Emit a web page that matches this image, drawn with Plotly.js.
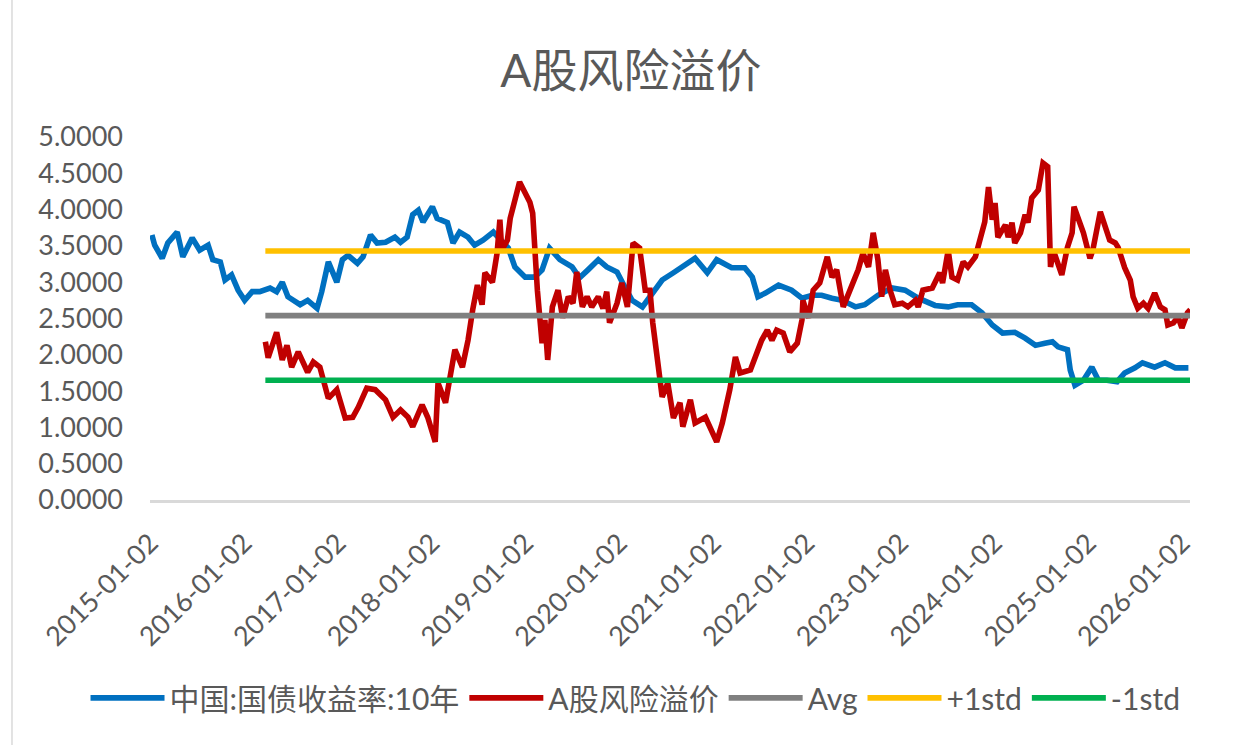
<!DOCTYPE html>
<html>
<head>
<meta charset="utf-8">
<script src="https://cdn.plot.ly/plotly-3.0.1.min.js"></script>
<style>
  html, body { margin: 0; padding: 0; background: #ffffff; }
  #chart { width: 1242px; height: 745px; }
</style>
</head>
<body>
<div id="chart"></div>
<script>
// ---------------- DATA ----------------
// x positions are decimal years; values are percent
const bondYears = [2015.02,2015.05,2015.13,2015.19,2015.29,2015.35,2015.45,2015.53,2015.62,2015.67,2015.75,2015.80,2015.87,2015.94,
  2016.01,2016.09,2016.17,2016.28,2016.35,2016.41,2016.47,2016.60,2016.68,2016.78,2016.83,2016.90,2016.99,
  2017.05,2017.11,2017.21,2017.27,2017.35,2017.42,2017.51,2017.61,2017.67,2017.74,2017.80,2017.86,2017.91,
  2018.01,2018.06,2018.17,2018.23,2018.30,2018.39,2018.46,2018.55,2018.66,2018.75,2018.82,2018.89,
  2019.00,2019.10,2019.18,2019.26,2019.37,2019.50,2019.58,2019.67,2019.78,2019.87,2019.98,
  2020.04,2020.14,2020.25,2020.35,2020.46,2020.58,2020.68,2020.81,2020.94,
  2021.04,2021.20,2021.34,2021.42,2021.48,2021.56,2021.70,2021.84,2021.95,
  2022.06,2022.16,2022.27,2022.38,2022.52,2022.62,2022.76,2022.91,
  2023.05,2023.19,2023.37,2023.51,2023.61,2023.76,2023.87,2023.98,
  2024.09,2024.22,2024.33,2024.44,2024.54,2024.62,2024.68,2024.78,2024.81,2024.86,2024.95,
  2025.04,2025.11,2025.20,2025.31,2025.39,2025.50,2025.58,2025.71,2025.82,2025.93,2026.01,2026.07];
const bondYield = [3.65,3.51,3.33,3.54,3.69,3.35,3.61,3.44,3.51,3.31,3.28,3.03,3.10,2.89,
  2.75,2.87,2.87,2.92,2.87,3.00,2.80,2.69,2.75,2.64,2.87,3.28,3.00,
  3.31,3.37,3.26,3.35,3.65,3.54,3.55,3.62,3.55,3.62,3.93,3.99,3.83,
  4.04,3.88,3.82,3.54,3.69,3.62,3.51,3.58,3.69,3.58,3.47,3.21,
  3.07,3.07,3.17,3.47,3.31,3.21,3.06,3.17,3.31,3.21,3.14,
  2.99,2.75,2.66,2.85,3.03,3.13,3.21,3.33,3.13,
  3.31,3.20,3.20,3.07,2.80,2.85,2.96,2.89,2.78,
  2.82,2.82,2.78,2.75,2.66,2.69,2.82,2.92,
  2.89,2.78,2.68,2.66,2.69,2.69,2.58,2.41,
  2.30,2.31,2.23,2.13,2.16,2.18,2.11,2.07,1.79,1.58,1.65,
  1.83,1.65,1.65,1.63,1.75,1.82,1.89,1.83,1.89,1.82,1.83,1.82];

const erpYears = [2016.23,2016.26,2016.35,2016.41,2016.46,2016.51,2016.58,2016.68,2016.74,2016.81,2016.90,2016.99,
  2017.08,2017.16,2017.22,2017.31,2017.40,2017.51,2017.59,2017.67,2017.75,2017.80,2017.90,2017.96,
  2018.04,2018.07,2018.15,2018.20,2018.25,2018.33,2018.39,2018.44,2018.49,2018.54,2018.57,2018.65,2018.70,2018.73,2018.75,2018.81,2018.84,2018.94,
  2019.05,2019.08,2019.13,2019.18,2019.21,2019.24,2019.29,2019.35,2019.40,2019.46,2019.51,2019.55,2019.61,2019.66,2019.71,2019.78,2019.83,2019.87,2019.90,2019.98,
  2020.03,2020.09,2020.15,2020.22,2020.28,2020.33,2020.36,2020.42,2020.46,2020.52,2020.58,2020.65,2020.68,2020.76,2020.81,2020.92,2020.99,
  2021.04,2021.10,2021.18,2021.24,2021.29,2021.40,2021.47,2021.52,2021.58,2021.63,2021.68,2021.75,2021.82,2021.90,2021.95,2021.96,
  2022.02,2022.07,2022.14,2022.22,2022.27,2022.32,2022.39,2022.48,2022.55,2022.60,2022.66,2022.71,2022.76,2022.80,2022.84,2022.89,2022.94,
  2023.02,2023.08,2023.16,2023.19,2023.24,2023.34,2023.37,2023.42,2023.45,2023.51,2023.55,2023.61,2023.67,2023.72,2023.80,2023.85,2023.90,2023.94,2023.98,
  2024.01,2024.04,2024.12,2024.15,2024.19,2024.22,2024.28,2024.33,2024.36,2024.40,2024.47,2024.52,2024.57,2024.60,2024.63,2024.67,2024.72,2024.78,2024.83,2024.85,2024.89,2024.95,
  2025.02,2025.05,2025.13,2025.18,2025.23,2025.29,2025.32,2025.39,2025.45,2025.48,2025.53,2025.59,2025.64,2025.71,2025.77,2025.82,2025.85,2025.91,2025.96,
  2026.00,2026.06,2026.09];
const erpValue = [2.18,1.96,2.31,1.93,2.13,1.83,2.04,1.76,1.90,1.83,1.40,1.52,
  1.13,1.14,1.28,1.54,1.52,1.38,1.14,1.24,1.14,1.01,1.31,1.14,
  0.80,1.61,1.34,1.75,2.07,1.83,2.20,2.62,2.96,2.69,3.13,3.00,3.40,3.86,3.44,3.58,3.88,4.38,
  4.10,3.95,2.89,2.16,2.48,1.93,2.66,2.89,2.51,2.80,2.71,3.14,2.66,2.80,2.66,2.80,2.64,2.87,2.44,2.71,
  2.99,2.66,3.54,3.47,2.89,2.89,2.44,1.83,1.42,1.61,1.13,1.34,1.01,1.38,1.06,1.14,0.96,
  0.80,1.06,1.52,1.97,1.75,1.79,2.04,2.20,2.34,2.20,2.34,2.30,2.04,2.16,2.48,2.75,
  2.51,2.89,2.99,3.35,3.07,3.17,2.66,2.93,3.17,3.40,3.21,3.68,3.31,2.80,3.17,2.89,2.69,
  2.71,2.66,2.75,2.66,2.89,2.92,3.00,3.13,2.99,3.44,3.07,3.03,3.28,3.21,3.35,3.58,3.83,4.31,3.86,
  4.09,3.62,3.79,3.62,3.82,3.54,3.68,3.93,3.82,4.16,4.27,4.64,4.59,3.21,3.44,3.31,3.10,3.48,3.68,4.04,3.90,3.68,
  3.33,3.44,3.97,3.79,3.58,3.54,3.48,3.20,3.03,2.80,2.64,2.71,2.64,2.85,2.66,2.62,2.41,2.44,2.52,
  2.37,2.58,2.62];

const avgValue = 2.54;
const plusStdValue = 3.43;
const minusStdValue = 1.65;

const seriesNames = ['中国:国债收益率:10年', 'A股风险溢价', 'Avg', '+1std', '-1std'];
const tickLabels = ['2015-01-02','2016-01-02','2017-01-02','2018-01-02','2019-01-02','2020-01-02',
  '2021-01-02','2022-01-02','2023-01-02','2024-01-02','2025-01-02','2026-01-02'];
const yTicks = [0,0.5,1,1.5,2,2.5,3,3.5,4,4.5,5];

// ---------------- helpers ----------------
function decYearToDate(y) {
  const yr = Math.floor(y);
  const frac = y - yr;
  const s = Date.UTC(yr, 0, 1), e = Date.UTC(yr + 1, 0, 1);
  return new Date(s + frac * (e - s)).toISOString().slice(0, 19).replace('T', ' ');
}
const bondX = bondYears.map(decYearToDate);
const erpX = erpYears.map(decYearToDate);
const bandX = [erpX[0], erpX[erpX.length - 1]];

const FONT = 'Lato, "Noto Sans CJK SC", sans-serif';
const TXT = '#595959';
const LW = 5.6;

const traces = [
  {x: bondX, y: bondYield, name: seriesNames[0], mode: 'lines', line: {color: '#0070C0', width: LW}},
  {x: erpX, y: erpValue, name: seriesNames[1], mode: 'lines', line: {color: '#C00000', width: LW}},
  {x: bandX, y: [avgValue, avgValue], name: seriesNames[2], mode: 'lines', line: {color: '#808080', width: LW}},
  {x: bandX, y: [plusStdValue, plusStdValue], name: seriesNames[3], mode: 'lines', line: {color: '#FFC000', width: LW}},
  {x: bandX, y: [minusStdValue, minusStdValue], name: seriesNames[4], mode: 'lines', line: {color: '#00B050', width: LW}}
];

const layout = {
  width: 1242, height: 745,
  margin: {l: 150, r: 52, t: 137, b: 245, autoexpand: false},
  paper_bgcolor: '#ffffff', plot_bgcolor: '#ffffff',
  font: {family: FONT, color: TXT},
  title: {text: 'A股风险溢价', font: {family: FONT, size: 46, color: TXT},
          xref: 'container', x: 0.508, xanchor: 'center', yref: 'container', y: 0.905, yanchor: 'middle'},
  xaxis: {
    type: 'date',
    range: [decYearToDate(2015.0), decYearToDate(2026.087)],
    tickmode: 'array', tickvals: tickLabels, ticktext: tickLabels,
    tickangle: -45, tickfont: {family: FONT, size: 27, color: TXT},
    ticklabelstandoff: 14,
    showgrid: false, zeroline: false,
    showline: true, linecolor: '#d9d9d9', linewidth: 2.5,
    ticks: '', fixedrange: true
  },
  yaxis: {
    range: [0, 5], tickmode: 'array', tickvals: yTicks, tickformat: '.4f',
    tickfont: {family: FONT, size: 27, color: TXT},
    showgrid: false, zeroline: false, showline: false, ticks: '',
    ticklabelstandoff: 26, fixedrange: true
  },
  showlegend: true,
  legend: {orientation: 'h', xref: 'paper', x: -0.062, xanchor: 'left',
           yref: 'paper', y: -0.545, yanchor: 'middle',
           font: {family: FONT, size: 30, color: TXT}, itemwidth: 74, traceorder: 'normal'},
  shapes: [
    {type: 'line', xref: 'paper', yref: 'paper', x0: -0.1327, x1: -0.1327, y0: -0.7, y1: 1.4,
     line: {color: '#d9d9d9', width: 1.5}}
  ]
};

Plotly.newPlot('chart', traces, layout, {staticPlot: true, displayModeBar: false});
</script>
</body>
</html>
